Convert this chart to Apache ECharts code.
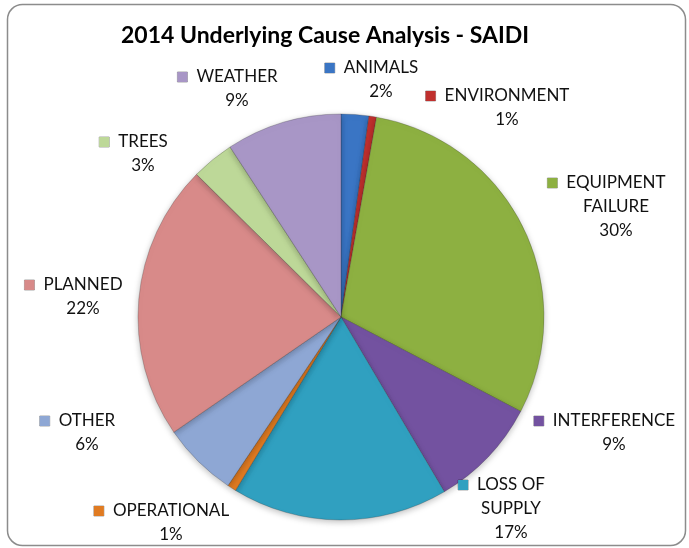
<!DOCTYPE html>
<html>
<head>
<meta charset="utf-8">
<script src="https://cdn.jsdelivr.net/npm/echarts@6/dist/echarts.min.js"></script>
<style>
  html, body { margin: 0; padding: 0; background: #ffffff; }
  #chart { width: 689px; height: 548px; }
</style>
</head>
<body>
<div id="chart"></div>
<script>
// Underlying causes of SAIDI minutes in 2014, as shares of the total (%)
const causes = ['ANIMALS', 'ENVIRONMENT', 'EQUIPMENT FAILURE', 'INTERFERENCE', 'LOSS OF SUPPLY',
                'OPERATIONAL', 'OTHER', 'PLANNED', 'TREES', 'WEATHER'];
const shares = [2.2, 0.6, 29.9, 8.8, 17.2, 0.7, 6.0, 22.0, 3.4, 9.2];

// Slice fill colours, one per cause
const sliceColors = ['#3a75c4', '#c0302e', '#8db041', '#7352a0', '#30a0c0',
                     '#e07b22', '#8ea7d4', '#d88a89', '#bdd898', '#a896c6'];

// Where each data label sits: centre x of the name text, centre y of its first line
const labelAnchors = [[381, 68], [507, 96], [616, 183], [614, 421], [511, 485],
                      [171, 511], [87, 421], [83, 285], [143, 142], [237, 77]];

const FONT = 'Lato, "Open Sans", sans-serif';
const LINE_H = 24;

// One rich style per legend-style square so each takes its slice colour
const rich = {
  nm: { fontFamily: FONT, fontSize: 17, color: '#111111', lineHeight: LINE_H },
  gap: { width: 9, height: 10 },
  pad: { width: 19, height: 10 }
};
sliceColors.forEach((c, i) => {
  rich['s' + i] = {
    width: 10, height: 10, backgroundColor: c,
    borderColor: 'rgba(0,0,0,0.35)', borderWidth: 0.5
  };
});

function labelText(p) {
  let lines = [p.name];
  if (p.name.length > 12) {
    const cut = p.name.lastIndexOf(' ');
    lines = [p.name.slice(0, cut), p.name.slice(cut + 1)];
  }
  let s = '{s' + p.dataIndex + '|}{gap|}{nm|' + lines[0] + '}{pad|}';
  for (let k = 1; k < lines.length; k++) s += '\n{nm|' + lines[k] + '}';
  s += '\n{nm|' + Math.round(p.percent) + '%}';
  return s;
}

const chart = echarts.init(document.getElementById('chart'), null, { renderer: 'canvas' });

chart.setOption({
  animation: false,
  backgroundColor: '#ffffff',
  title: {
    text: '2014 Underlying Cause Analysis - SAIDI',
    left: 116,
    top: 19,
    textStyle: { fontFamily: FONT, fontWeight: 'bold', fontSize: 23, color: '#000000' }
  },
  graphic: [{
    type: 'rect',
    z: -10,
    silent: true,
    shape: { x: 7.5, y: 4.5, width: 678, height: 541, r: 15 },
    style: { fill: 'transparent', stroke: '#8c8c8c', lineWidth: 1.5 }
  }],
  series: [{
    type: 'pie',
    center: [341, 317],
    radius: 203,
    startAngle: 90,
    clockwise: true,
    avoidLabelOverlap: false,
    emphasis: { disabled: true },
    data: causes.map((name, i) => ({
      name: name,
      value: shares[i],
      itemStyle: { color: sliceColors[i] }
    })),
    itemStyle: {
      borderColor: 'rgba(40,40,40,0.35)',
      borderWidth: 0.7,
      shadowBlur: 6,
      shadowOffsetY: 2,
      shadowColor: 'rgba(0,0,0,0.25)'
    },
    label: {
      show: true,
      position: 'outside',
      formatter: labelText,
      rich: rich,
      lineHeight: LINE_H,
      align: 'center'
    },
    labelLine: { show: false },
    labelLayout: function (p) {
      const a = labelAnchors[p.dataIndex];
      return { x: a[0], y: a[1] - LINE_H / 2, align: 'center', verticalAlign: 'top' };
    }
  }]
});
</script>
</body>
</html>
